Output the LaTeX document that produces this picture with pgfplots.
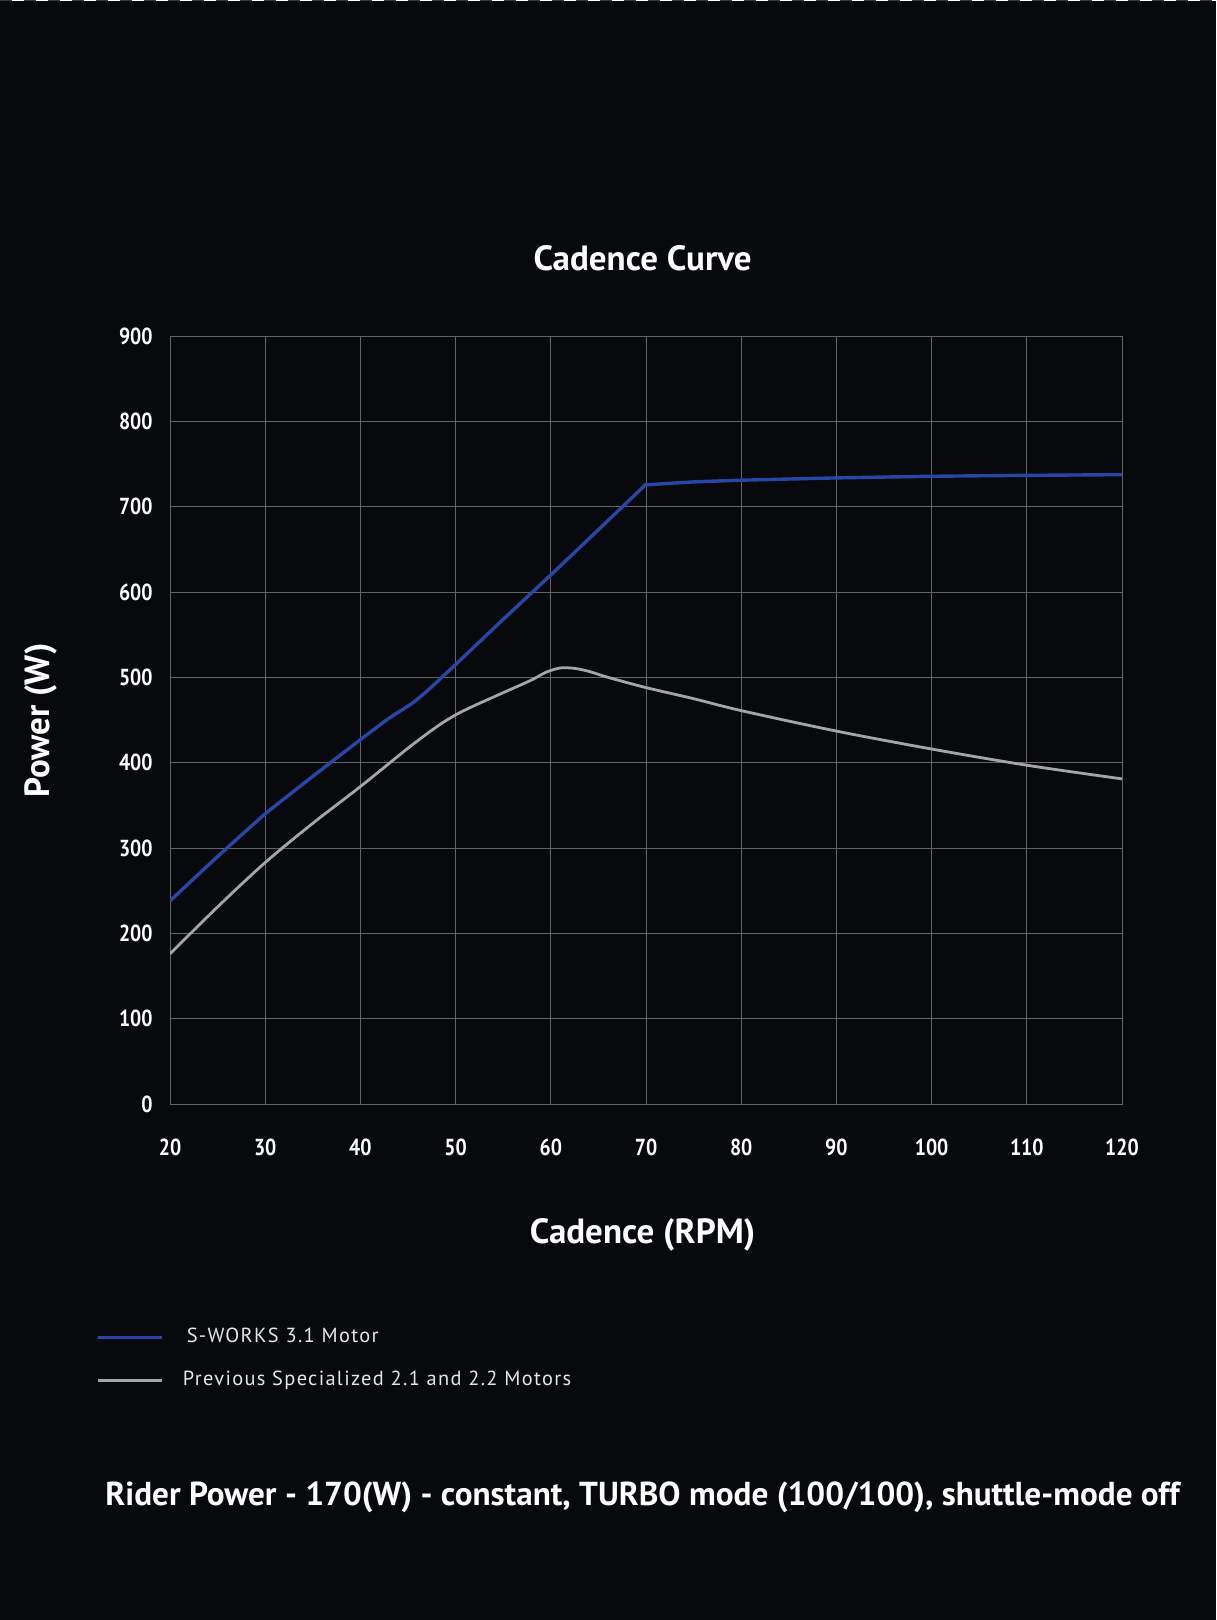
\documentclass[border=0pt]{standalone}
\usepackage{fontspec}
\setmainfont{PT Sans}
\newfontfamily\tickfont{PT Sans}[FakeStretch=0.85]
\newfontfamily\legfont{PT Sans}[LetterSpace=6.5]
\usepackage{pgfplots}
\pgfplotsset{compat=1.18}
\definecolor{bgcol}{RGB}{7,9,12}
\definecolor{gridcol}{RGB}{100,100,100}
\definecolor{swblue}{RGB}{40,70,165}
\definecolor{oldgray}{RGB}{165,165,165}
\definecolor{dashgray}{RGB}{60,60,60}
\begin{document}
\begin{tikzpicture}[x=0.5pt,y=-0.5pt]
\fill[bgcol] (0,0) rectangle (1216,1620);
\draw[dashgray, line width=0.7pt] (0,0.7) -- (1216,0.7);
\draw[white, line width=0.7pt, dash pattern=on 6pt off 6pt, dash phase=6pt] (0,0.7) -- (1216,0.7);
\begin{axis}[at={(85pt,-552pt)}, anchor=south west, scale only axis,
  width=476pt, height=384pt,
  xmin=20, xmax=120, ymin=0, ymax=900,
  xtick={20,30,...,120}, ytick={0,100,...,900},
  grid=major, grid style={gridcol, line width=0.5pt},
  axis line style={gridcol, line width=0.5pt},
  major tick length=0pt, tick style={draw=none},
  ticklabel style={white, font=\tickfont\bfseries\fontsize{11.6}{12}\selectfont,
    /pgf/number format/assume math mode=true},
  xticklabel style={anchor=north, inner sep=0pt, yshift=-17.5pt},
  yticklabel style={anchor=east, inner sep=0pt, xshift=-8.5pt},
  legend style={draw=none, fill=none, text=white!90!black,
    font=\legfont\fontsize{10.2}{11}\selectfont,
    at={(-0.0777,-0.292)}, anchor=north west, inner sep=0pt, row sep=12.5pt,
    nodes={inner sep=0pt, text height=7pt, text depth=2pt},
    /tikz/every odd column/.append style={column sep=10pt}},
  legend cell align=left,
  legend image code/.code={\draw[#1, line width=1.2pt] (0pt,0pt) -- (32pt,0pt);},
]
\addplot[swblue, line width=1.7pt, line join=round, smooth, tension=0.25] coordinates {
(20,238) (25,290) (30,340) (35,384) (40,427) (43,452) (45.5,470) (47,484)
(50,515) (55,568) (60,620) (65,673) (69.7,723) (70,725.5) (75,729)
(80,731) (90,733.7) (100,735.6) (110,736.7) (120,737.5)};
\addlegendentry{\hspace*{2pt}S-WORKS 3.1 Motor}
\addplot[oldgray, line width=1.4pt, line join=round, smooth, tension=0.5] coordinates {
(20,176) (25,231) (30,283) (35,329) (40,372) (45,417) (48,442) (50,456)
(52,467) (55,482) (58,497) (59.5,506) (61,511) (62.5,510.5) (64,507)
(66,500) (70,488) (75,475) (80,461) (90,437) (100,416) (110,397) (120,381)};
\addlegendentry{Previous Specialized 2.1 and 2.2 Motors}
\end{axis}
\node[anchor=base, white, font=\bfseries\fontsize{17.5}{20}\selectfont] at (642.5,270.5) {Cadence Curve};
\node[anchor=base, white, font=\bfseries\fontsize{17.5}{20}\selectfont] at (642.5,1243) {Cadence (RPM)};
\node[anchor=base, rotate=90, white, font=\bfseries\fontsize{17.5}{20}\selectfont] at (49.6,720.5) {Power (W)};
\node[anchor=base west, inner sep=0pt, white, font=\bfseries\fontsize{16.6}{19}\selectfont] at (105,1505) {Rider Power - 170(W) - constant, TURBO mode (100/100), shuttle-mode off};
\pgfresetboundingbox
\useasboundingbox (0,0) rectangle (1216,1620);
\end{tikzpicture}
\end{document}
